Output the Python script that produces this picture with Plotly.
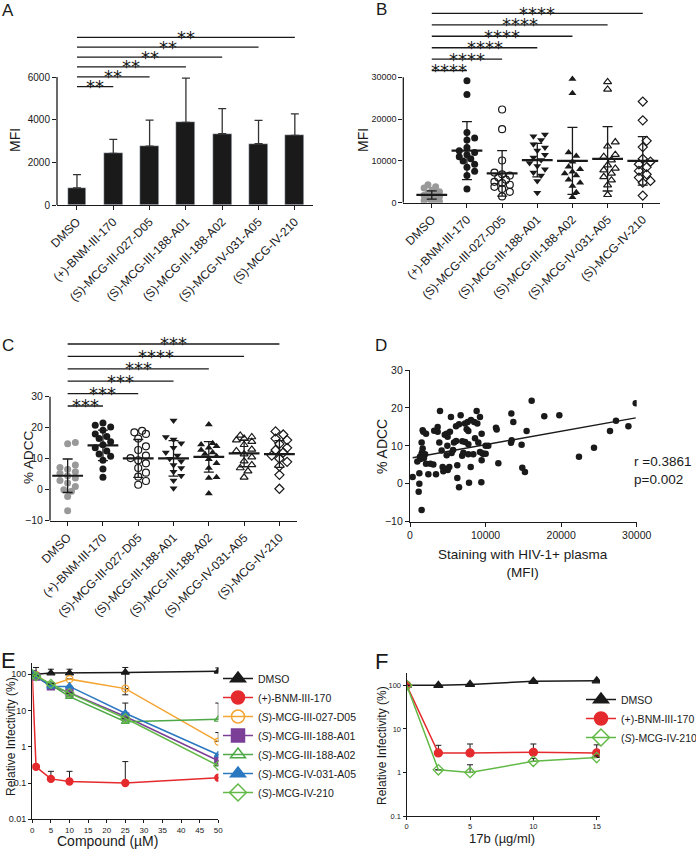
import plotly.graph_objects as go

W, H = 696, 849
FONT = "Liberation Sans, Arial, sans-serif"
STAR_FONT = "DejaVu Sans, sans-serif"
INK = "#1a1a1a"
GREY = "#999999"

CATEGORIES = ["DMSO", "(+)-BNM-III-170", "(S)-MCG-III-027-D05", "(S)-MCG-III-188-A01",
              "(S)-MCG-III-188-A02", "(S)-MCG-IV-031-A05", "(S)-MCG-IV-210"]
IDX = list(range(len(CATEGORIES)))

# ---- A: MFI, mean + SD bars
A_MEAN = [800, 2420, 2760, 3870, 3340, 2870, 3260]
A_SD = [620, 660, 1220, 2080, 1180, 1100, 1010]
A_STARS = ["**", "**", "**", "**", "**", "**"]

# ---- B: MFI per donor
B_DMSO = [4300, 3800, 3500, 3000, 2600, 2200, 2000, 1800, 1500, 1200, 1000, 800, 500, 300, 100]
B_BNM = [29200, 25900, 16800, 15500, 15000, 13200, 12400, 12000, 11500, 11000, 10500, 10000,
         9200, 8500, 7500, 6500, 3300]
B_D05 = [22300, 17600, 10100, 7200, 6800, 6500, 6000, 5500, 5000, 4700, 4300, 3800, 3300, 2600, 1500]
B_A01 = [16300, 15900, 15000, 14000, 13200, 12500, 11500, 10800, 10200, 9500, 8800, 8000, 7200,
         6500, 5200, 2400]
B_A02 = [29600, 26200, 12000, 11200, 9800, 8600, 8000, 7400, 7000, 6500, 5500, 4800, 4000, 2500, 1300]
B_A05 = [28900, 27100, 14500, 13500, 11500, 11000, 10200, 9000, 8200, 7800, 7000, 6200, 5400, 4200, 1900]
B_IV210 = [24200, 19700, 14800, 13300, 10500, 9800, 9200, 8500, 7600, 6800, 6000, 5200, 4800, 1700]
B_MEAN = [1850, 12450, 7000, 10200, 10000, 10500, 10000]
B_SD = [1000, 6950, 5450, 4000, 8000, 7700, 5800]
B_STARS = ["****", "****", "****", "****", "****", "****"]

# ---- C: % ADCC per donor
C_DMSO = [15.2, 14.8, 8.0, 7.2, 6.6, 5.8, 5.2, 4.5, 3.8, 3.0, 2.2, 1.0, 0.0, -0.5, -2.2, -6.8]
C_BNM = [21.5, 20.8, 20.2, 19.2, 18.0, 17.2, 16.5, 15.5, 14.5, 13.5, 12.5, 11.5, 10.8, 9.5, 6.7, 4.0]
C_D05 = [19.0, 18.5, 18.0, 16.5, 14.0, 12.8, 11.0, 10.2, 9.5, 8.5, 7.0, 5.5, 4.2, 2.8, 1.6]
C_A01 = [22.3, 17.0, 16.2, 15.0, 13.5, 12.0, 11.0, 10.0, 9.2, 8.0, 7.0, 5.8, 4.5, 3.0, 0.5]
C_A02 = [21.0, 15.0, 14.6, 14.0, 13.5, 12.8, 12.0, 11.5, 10.8, 9.8, 8.5, 7.0, 4.0, 3.8, -1.2]
C_A05 = [17.5, 17.0, 16.5, 16.0, 15.5, 14.5, 13.0, 12.5, 11.5, 10.5, 9.2, 8.0, 7.0, 6.0, 4.0]
C_IV210 = [18.8, 17.8, 16.5, 16.0, 14.8, 13.5, 12.8, 12.0, 11.0, 10.0, 9.0, 7.5, 4.8, 0.3]
C_MEAN = [4.5, 14.3, 10.1, 10.1, 10.6, 11.7, 11.5]
C_SD = [5.4, 4.9, 6.1, 5.7, 4.9, 4.3, 4.3]
C_STARS = ["***", "***", "***", "***", "****", "***"]

# ---- D: correlation MFI vs % ADCC
D_MFI = [350, 1235, 1235, 1150, 1540, 970, 1540, 1675, 1540, 1760, 1675, 2120, 1320, 1850, 2120,
         2430, 3090, 3440, 3660, 3660, 3970, 3880, 4190, 4320, 4410, 4760, 4850, 4980, 4940, 4850,
         5290, 5420, 5510, 5200, 5820, 6090, 6490, 6260, 6260, 6490, 6700, 6920, 7060, 7280, 7500,
         7720, 7630, 7720, 7720, 8030, 7810, 8070, 8380, 8820, 8910, 9260, 9040, 9260, 9480, 9480,
         9700, 9440, 10010, 10360, 10010, 11380, 11470, 11690, 13410, 13670, 13450, 13360, 14770,
         14860, 15210, 15430, 16100, 17770, 19760, 22360, 24350, 26470, 27260, 28900, 29870,
         4600, 5000, 5700, 6100, 7300, 8500, 9600, 3200, 2000, 1600, 1400, 2700, 6900, 8600]
D_ADCC = [1.8, 2.8, 0.0, -2.1, -6.9, 5.9, 7.9, 9.3, 10.9, 13.7, 14.1, 13.2, 7.1, 6.8, 5.3,
          2.5, 5.1, 2.5, 15.0, 13.7, 19.2, 10.9, 8.8, 4.4, 3.3, 3.9, 13.2, 12.4, 10.0, 7.5,
          13.7, 17.6, 8.1, 4.4, 10.9, 15.2, 15.7, 4.9, 1.5, -0.9, 18.1, 11.2, 8.2, 15.9, 14.4,
          13.9, 16.3, 10.4, 7.8, 4.4, 0.3, 16.8, 7.8, 19.2, 15.9, 17.6, 10.9, 8.4, 13.2, 6.2,
          7.9, 0.4, 10.0, 10.0, 7.9, 14.8, 14.3, 5.4, 18.5, 16.3, 11.5, 10.8, 10.3,
          4.2, 3.1, 13.9, 21.9, 17.8, 18.1, 7.1, 9.5, 13.9, 16.6, 15.2, 21.2,
          12.9, 3.6, 8.9, 11.3, 11.0, 16.3, 8.0, 14.0, 7.8, 8.3, 6.5, 5.3, 7.4, 12.0]
D_INTERCEPT = 6.75
D_SLOPE = 3.56e-4
D_STATS = ["r =0.3861", "p=0.002"]

# ---- E: relative infectivity vs compound (µM)
E_CONC = [0, 1, 5, 10, 25, 50]
E_DMSO = [100, 100, 107, 107, 112, 120]
E_DMSO_UP = [0, 53, 30, 30, 41, 29]
E_DMSO_DN = [0, 0, 0, 0, 85, 0]
E_BNM = [100, 0.28, 0.13, 0.11, 0.10, 0.14]
E_BNM_UP = [0, 0, 0.08, 0.10, 0.29, 0]
E_D05 = [100, 96, 50, 73, 40, 1.39]
E_D05_UP = [0, 0, 0, 0, 0, 1.07]
E_A01 = [100, 86, 46, 31, 6.8, 0.41]
E_A01_UP = [0, 0, 0, 0, 0, 0]
E_A02 = [100, 90, 51, 24, 4.9, 5.7]
E_A02_UP = [0, 0, 0, 0, 0, 10.3]
E_A05 = [100, 90, 46, 46, 8.4, 0.60]
E_A05_UP = [0, 0, 0, 0, 7.6, 0]
E_IV210 = [100, 88, 54, 30, 6.1, 0.30]
E_IV210_UP = [0, 0, 0, 0, 0, 0]

# ---- F: relative infectivity vs 17b (µg/ml)
F_CONC = [0, 2.5, 5, 10, 15]
F_DMSO = [100, 100, 105, 124, 127]
F_BNM = [100, 2.8, 2.8, 2.9, 2.8]
F_BNM_UP = [0, 1.4, 1.7, 1.6, 1.5]
F_IV210 = [100, 1.15, 1.0, 1.8, 2.2]
F_IV210_UP = [0, 0, 0.5, 0.3, 0.2]

GROUP_SYMBOLS = ["circle", "circle", "circle-open", "triangle-down", "triangle-up",
                 "triangle-up-open", "diamond-open"]
GROUP_COLORS = [GREY, INK, INK, INK, INK, INK, INK]

RED, ORANGE, PURPLE = "#e52a2d", "#f4a431", "#7b3f98"
GREEN, BLUE, LIME = "#4ea847", "#2a78c0", "#62b946"


def xdom(x0, x1):
    return [x0 / W, x1 / W]


def ydom(top, bottom):
    return [1 - bottom / H, 1 - top / H]


def axis(dom, rng, size, **kw):
    d = dict(domain=dom, range=rng, showgrid=False, zeroline=False, showline=True,
             automargin=False, linecolor=INK, linewidth=1.3, ticks="outside", ticklen=4,
             tickwidth=1.2, tickcolor=INK, tickformat="d",
             tickfont=dict(family=FONT, size=size, color=INK))
    d.update(kw)
    return d


def swarm(values, px_per_unit, cat_px, size_px, max_px=10):
    # spread points sideways (within max_px) so that close values overlap less
    step = size_px * 0.55
    cands = [0.0]
    k = 1
    while k * step <= max_px:
        cands += [k * step, -k * step]
        k += 1
    order = sorted(range(len(values)), key=lambda i: values[i])
    placed, offsets = [], [0.0] * len(values)
    for i in order:
        y = values[i] * px_per_unit
        best, best_d = 0.0, -1.0
        for c in cands:
            d = min((((c - px) ** 2 + (y - py) ** 2) ** 0.5 for px, py in placed), default=1e9)
            if d >= size_px * 0.9:
                best = c
                break
            if d > best_d:
                best, best_d = c, d
        placed.append((best, y))
        offsets[i] = best / cat_px
    return offsets


fig = go.Figure()
shapes, annotations = [], []


def text(x, y, s, size, angle=0, xanchor="center", family=FONT, align="center"):
    annotations.append(dict(x=x / W, y=1 - y / H, xref="paper", yref="paper", text=s,
                            showarrow=False, textangle=angle, xanchor=xanchor, yanchor="middle",
                            align=align, font=dict(family=family, size=size, color=INK)))


def brackets(xr, yr, base, step, stars):
    for k, s in enumerate(stars, start=1):
        y = base + (k - 1) * step
        shapes.append(dict(type="line", xref=xr, yref=yr, x0=0, x1=k, y0=y, y1=y,
                           line=dict(color=INK, width=1.3)))
        annotations.append(dict(x=k / 2, y=y, xref=xr, yref=yr, text=s, showarrow=False,
                                yanchor="middle", font=dict(family=STAR_FONT, size=18, color=INK)))


def short_yline(xr, yr, y0, y1):
    shapes.append(dict(type="line", xref=xr + " domain", yref=yr, x0=0, x1=0, y0=y0, y1=y1,
                       line=dict(color=INK, width=1.3)))


def mean_sd(xa, ya, mean, sd):
    fig.add_trace(go.Scatter(
        x=IDX, y=mean, mode="markers", xaxis=xa, yaxis=ya, showlegend=False,
        marker=dict(symbol="line-ew", size=22, line=dict(width=2.2, color=INK)),
        error_y=dict(type="data", array=sd, symmetric=True, color=INK, thickness=1.3, width=5)))


# ---------------- A
fig.add_trace(go.Bar(
    x=IDX, y=A_MEAN, width=0.52, marker=dict(color=INK), xaxis="x", yaxis="y", showlegend=False,
    error_y=dict(type="data", array=A_SD, arrayminus=[0] * len(A_SD), symmetric=False,
                 color="#333333", thickness=1.3, width=4)))
brackets("x", "y", 5545, 463, A_STARS)
short_yline("x", "y", 0, 6000)

# ---------------- B and C scatter dot plots
for xa, ya, groups, cat_px, ppu in [
        ("x2", "y2", [B_DMSO, B_BNM, B_D05, B_A01, B_A02, B_A05, B_IV210], 35.2, 125.4 / 30000),
        ("x3", "y3", [C_DMSO, C_BNM, C_D05, C_A01, C_A02, C_A05, C_IV210], 35.3, 3.1)]:
    for i, vals in enumerate(groups):
        offs = swarm(vals, ppu, cat_px, 7)
        open_sym = GROUP_SYMBOLS[i].endswith("open")
        fig.add_trace(go.Scatter(
            x=[i + o for o in offs], y=vals, mode="markers", xaxis=xa, yaxis=ya, showlegend=False,
            marker=dict(symbol=GROUP_SYMBOLS[i], size=7, color=GROUP_COLORS[i],
                        line=dict(width=1.2 if open_sym else 0, color=GROUP_COLORS[i]))))
mean_sd("x2", "y2", B_MEAN, B_SD)
mean_sd("x3", "y3", C_MEAN, C_SD)
brackets("x2", "y2", 31580, 2746, B_STARS)
short_yline("x2", "y2", 0, 30000)
brackets("x3", "y3", 27.0, 4.0, C_STARS)
short_yline("x3", "y3", -10, 30)

# ---------------- D
fig.add_trace(go.Scatter(x=D_MFI, y=D_ADCC, mode="markers", xaxis="x4", yaxis="y4",
                         showlegend=False, marker=dict(size=6.5, color=INK)))
fx = [min(D_MFI), max(D_MFI)]
fig.add_trace(go.Scatter(x=fx, y=[D_INTERCEPT + D_SLOPE * v for v in fx], mode="lines",
                         xaxis="x4", yaxis="y4", showlegend=False,
                         line=dict(color=INK, width=1.4)))

# ---------------- E
E_SERIES = [
    ("DMSO", E_DMSO, E_DMSO_UP, E_DMSO_DN, INK, "triangle-up"),
    ("(+)-BNM-III-170", E_BNM, E_BNM_UP, None, RED, "circle"),
    ("(<i>S</i>)-MCG-III-027-D05", E_D05, E_D05_UP, None, ORANGE, "circle-open"),
    ("(<i>S</i>)-MCG-III-188-A01", E_A01, E_A01_UP, None, PURPLE, "square"),
    ("(<i>S</i>)-MCG-III-188-A02", E_A02, E_A02_UP, None, GREEN, "triangle-up-open"),
    ("(<i>S</i>)-MCG-IV-031-A05", E_A05, E_A05_UP, None, BLUE, "triangle-up"),
    ("(<i>S</i>)-MCG-IV-210", E_IV210, E_IV210_UP, None, LIME, "diamond-open"),
]
for name, ys, up, dn, col, sym in E_SERIES:
    fig.add_trace(go.Scatter(
        x=E_CONC, y=ys, mode="lines+markers", xaxis="x5", yaxis="y5", showlegend=False,
        line=dict(color=col, width=1.5),
        marker=dict(symbol=sym, size=7, color=col, line=dict(width=1.3, color=col)),
        error_y=dict(type="data", symmetric=False, array=up, arrayminus=dn or [0] * len(up),
                     color=INK, thickness=1, width=3)))
for name, ys, up, dn, col, sym in E_SERIES:
    fig.add_trace(go.Scatter(
        x=[None], y=[None], mode="lines+markers", xaxis="x5", yaxis="y5", name=name,
        legend="legend", line=dict(color=col, width=1.5),
        marker=dict(symbol=sym, size=13, color=col, line=dict(width=1.5, color=col))))

# ---------------- F
F_SERIES = [
    ("DMSO", F_DMSO, [0] * len(F_DMSO), INK, "triangle-up"),
    ("(+)-BNM-III-170", F_BNM, F_BNM_UP, RED, "circle"),
    ("(<i>S</i>)-MCG-IV-210", F_IV210, F_IV210_UP, LIME, "diamond-open"),
]
for name, ys, up, col, sym in F_SERIES:
    fig.add_trace(go.Scatter(
        x=F_CONC, y=ys, mode="lines+markers", xaxis="x6", yaxis="y6", showlegend=False,
        line=dict(color=col, width=1.5),
        marker=dict(symbol=sym, size=8, color=col, line=dict(width=1.3, color=col)),
        error_y=dict(type="data", symmetric=False, array=up, arrayminus=[0] * len(up),
                     color=INK, thickness=1, width=3)))
for name, ys, up, col, sym in F_SERIES:
    fig.add_trace(go.Scatter(
        x=[None], y=[None], mode="lines+markers", xaxis="x6", yaxis="y6", name=name,
        legend="legend2", line=dict(color=col, width=1.5),
        marker=dict(symbol=sym, size=13, color=col, line=dict(width=1.5, color=col))))

# ---------------- labels
for letter, x, y, size in [("A", 7.5, 11, 17), ("B", 381, 10, 17), ("C", 7.5, 345, 17),
                           ("D", 381, 345, 17), ("E", 8, 660, 22), ("F", 381, 661, 22)]:
    text(x, y, letter, size)
text(15, 140, "MFI", 14, angle=-90)
text(363, 140, "MFI", 14, angle=-90)
text(28, 457, "% ADCC", 13.5, angle=-90)
text(382, 447, "% ADCC", 14, angle=-90)
text(523, 563, "Staining with HIV-1+ plasma<br>(MFI)", 13.5)
text(632, 470, "<br>".join(D_STATS), 13.5, xanchor="left", align="left")
text(11, 737, "Relative Infectivity (%)", 12, angle=-90)
text(107, 841, "Compound (µM)", 14)
text(382, 746, "Relative Infectivity (%)", 12, angle=-90)
text(502, 838, "17b (µg/ml)", 13)

cat_axis = dict(tickmode="array", tickvals=IDX, ticktext=CATEGORIES, tickangle=-45)
leg_font = dict(family=FONT, size=10.5, color=INK)

fig.update_layout(
    width=W, height=H, margin=dict(l=0, r=0, t=0, b=0, autoexpand=False),
    paper_bgcolor="white", plot_bgcolor="white", bargap=0,
    xaxis=axis(xdom(57, 313), [-0.55, 6.5], 12, anchor="y", **cat_axis),
    yaxis=axis(ydom(28, 205), [0, 177 / 128 * 6000], 10, anchor="x", showline=False,
               tickvals=[0, 2000, 4000, 6000]),
    xaxis2=axis(xdom(403.3, 660), [-0.81, 6.49], 12, anchor="y2", **cat_axis),
    yaxis2=axis(ydom(5, 202.7), [0, 197.7 / 125.4 * 30000], 9, anchor="x2", showline=False,
                tickvals=[0, 10000, 20000, 30000]),
    xaxis3=axis(xdom(50, 296.7), [-0.5, 6.49], 12, anchor="y3", **cat_axis),
    yaxis3=axis(ydom(338, 520.7), [-10, -10 + 182.7 / 3.1], 10.5, anchor="x3", showline=False,
                tickvals=[-10, 0, 10, 20, 30]),
    xaxis4=axis(xdom(410, 636.7), [0, 30000], 10.5, anchor="y4",
                tickvals=[0, 10000, 20000, 30000]),
    yaxis4=axis(ydom(370, 521.7), [-10, 30], 10.5, anchor="x4", tickvals=[-10, 0, 10, 20, 30]),
    xaxis5=axis(xdom(32.3, 218.3), [0, 50], 8, anchor="y5", dtick=5, ticklen=3),
    yaxis5=axis(ydom(663.3, 819.3), [-2, 2.30], 9, anchor="x5", type="log", ticklen=3,
                tickformat=None, tickmode="array",
                tickvals=[0.01, 0.1, 1, 10, 100], ticktext=["0.01", "0.1", "1", "10", "100"]),
    xaxis6=axis(xdom(406.7, 600), [0, 15.26], 7.5, anchor="y6", tickvals=[0, 5, 10, 15], ticklen=3),
    yaxis6=axis(ydom(672.7, 816), [-1, 2.29], 7.5, anchor="x6", type="log", ticklen=3,
                tickformat=None, tickmode="array",
                tickvals=[0.1, 1, 10, 100], ticktext=["0.1", "1", "10", "100"]),
    legend=dict(x=218 / W, y=1 - 664 / H, xanchor="left", yanchor="top", font=leg_font,
                bgcolor="rgba(0,0,0,0)", tracegroupgap=0),
    legend2=dict(x=581 / W, y=1 - 685 / H, xanchor="left", yanchor="top", font=leg_font,
                 bgcolor="rgba(0,0,0,0)", tracegroupgap=0),
    shapes=shapes, annotations=annotations,
)

# the page's default body margin would shift the figure by 8 px
fig.write_html("out.html", config={"displayModeBar": False},
               post_script="document.body.style.margin = '0';")
